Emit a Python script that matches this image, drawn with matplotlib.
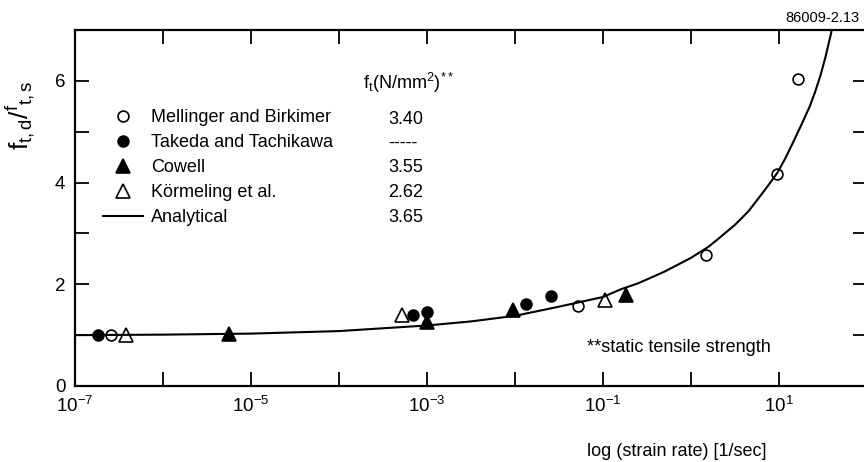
import numpy as np
import matplotlib
matplotlib.use("Agg")
import matplotlib.pyplot as plt

plt.rcParams['font.family'] = ['Liberation Sans', 'DejaVu Sans']
plt.rcParams['mathtext.fontset'] = 'custom'
plt.rcParams['mathtext.rm'] = 'Liberation Sans'
plt.rcParams['mathtext.it'] = 'Liberation Sans:italic'
plt.rcParams['mathtext.bf'] = 'Liberation Sans:bold'

# Data (log10 of strain rate, strength ratio)
mell_logx = [-6.59, -1.28, 0.17, 0.98, 1.22]
mell_y = [1.01, 1.58, 2.58, 4.17, 6.03]

takeda_logx = [-6.74, -3.16, -3.0, -1.87, -1.59]
takeda_y = [1.01, 1.40, 1.46, 1.62, 1.77]

cowell_logx = [-5.25, -3.0, -2.02, -0.74]
cowell_y = [1.02, 1.25, 1.50, 1.79]

korm_logx = [-6.42, -3.28, -0.98]
korm_y = [1.01, 1.40, 1.70]

# analytical curve, points
anal_logx = [-7.0, -6.0, -5.0, -4.0, -3.0, -2.5, -2.0, -1.5, -1.0, -0.8, -0.6, -0.3,
             0.0, 0.2, 0.3, 0.5, 0.65, 0.78, 0.88, 0.98, 1.07, 1.16, 1.25, 1.35,
             1.41, 1.47, 1.53, 1.58, 1.60]
anal_y = [1.00, 1.01, 1.03, 1.08, 1.19, 1.27, 1.38, 1.56, 1.75, 1.90, 2.02, 2.25,
          2.52, 2.74, 2.88, 3.17, 3.43, 3.72, 3.95, 4.19, 4.47, 4.79, 5.12, 5.50,
          5.78, 6.10, 6.48, 6.85, 7.0]

labels = ['Mellinger and Birkimer', 'Takeda and Tachikawa', 'Cowell',
          'Körmeling et al.', 'Analytical']
ft_values = ['3.40', '-----', '3.55', '2.62', '3.65']

fig = plt.figure(figsize=(8.64, 4.62), dpi=100)
ax = fig.add_axes([75/864, 1-386/462, 792/864, 356/462])

circ = dict(linestyle='none', markersize=7.8, markeredgewidth=1.2, color='black')
tri = dict(linestyle='none', markersize=9.5, markeredgewidth=1.2, color='black')
l1, = ax.plot(10.0**np.array(mell_logx), mell_y, marker='o', markerfacecolor='white', **circ)
l2, = ax.plot(10.0**np.array(takeda_logx), takeda_y, marker='o', markerfacecolor='black', **circ)
l3, = ax.plot(10.0**np.array(cowell_logx), cowell_y, marker='^', markerfacecolor='black', **tri)
l4, = ax.plot(10.0**np.array(korm_logx), korm_y, marker='^', markerfacecolor='white', **tri)
l5, = ax.plot(10.0**np.array(anal_logx), anal_y, color='black', linewidth=1.5)

ax.set_xscale('log')
ax.set_xlim(1e-7, 1e2)
ax.set_ylim(0, 7)

xt = [10.0**e for e in range(-7, 3)]
xl = [r'$10^{%d}$' % e if e % 2 else '' for e in range(-7, 3)]
ax.set_xticks(xt)
ax.set_xticklabels(xl, fontsize=13.5)
ax.xaxis.set_minor_locator(matplotlib.ticker.NullLocator())
ax.set_yticks(range(0, 8))
ax.set_yticklabels(['0', '', '2', '', '4', '', '6', ''], fontsize=13.5)
ax.tick_params(direction='in', length=10, width=1.3, top=True, right=True, pad=7)

for s in ax.spines.values():
    s.set_linewidth(1.6)

ax.set_ylabel(r'$\mathregular{f_{t,d}/^{f}{}_{t,s}}$', fontsize=19)
ax.yaxis.set_label_coords((37-75)/792, (386-115)/356)
ax.set_xlabel('log (strain rate) [1/sec]', fontsize=13)
ax.xaxis.set_label_coords(0.76, -0.16)

leg = ax.legend([l1, l2, l3, l4, l5], labels, loc='upper left',
                bbox_to_anchor=((103-75)/792, (386-109)/356), frameon=False,
                fontsize=13, handlelength=2.2, handletextpad=0.45,
                borderpad=0, borderaxespad=0, labelspacing=0.45)

ax.text((363-75)/792, (386-83)/356, r'$\mathregular{f_t(N/mm^2)^{**}}$',
        transform=ax.transAxes, fontsize=13, va='center', ha='left')
for i, v in enumerate(ft_values):
    ax.text((388-75)/792, (386-(119+24.5*i))/356, v, transform=ax.transAxes,
            fontsize=13, va='center', ha='left')

ax.text((587-75)/792, (386-347)/356, '**static tensile strength',
        transform=ax.transAxes, fontsize=13, va='center', ha='left')
fig.text(860/864, 1-18/462, '86009-2.13', fontsize=10.5, ha='right', va='center')

fig.savefig('out.png', dpi=100)
